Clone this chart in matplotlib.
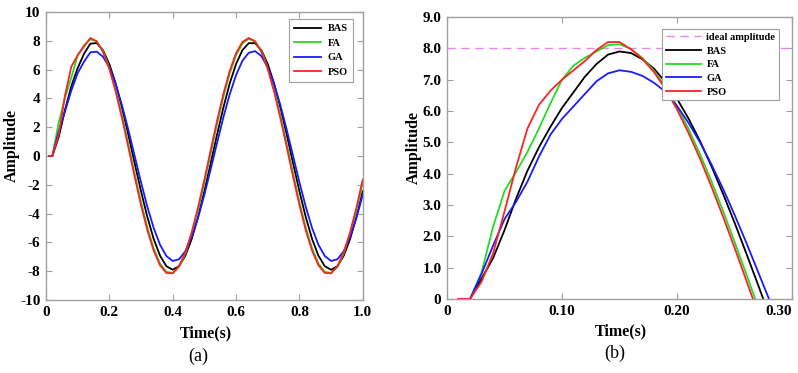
import numpy as np
import matplotlib
matplotlib.use("Agg")
import matplotlib.pyplot as plt

plt.rcParams['font.family'] = ['Liberation Serif', 'DejaVu Serif']
plt.rcParams['axes.unicode_minus'] = False

#%% data
# (a) full response, 0.02 s steps (first sample at 0.01 s)
t_a = np.concatenate(([0.01], np.arange(0.02, 1.0001, 0.02)))
bas_a = [0, 0, 1.3, 3.2, 4.85, 6.1, 7.1, 7.8, 7.85, 7.35, 6.39, 5.04, 3.36, 1.48, -0.50,
         -2.44, -4.23, -5.76, -6.92, -7.65, -7.90, -7.65, -6.92, -5.76, -4.23, -2.44,
         -0.50, 1.48, 3.36, 5.04, 6.39, 7.35, 7.84, 7.84, 7.35, 6.39, 5.04, 3.36, 1.48, -0.50,
         -2.44, -4.23, -5.76, -6.92, -7.65, -7.90, -7.65, -6.92, -5.76, -4.23, -2.44]
fa_a = [0, 0, 2.3, 4.05, 5.45, 7.0, 7.7, 8.1, 7.98, 7.28, 6.15, 4.62, 2.81, 0.82, -1.23,
        -3.19, -4.96, -6.41, -7.46, -8.04, -8.12, -7.69, -6.77, -5.43, -3.75, -1.83,
        0.20, 2.22, 4.10, 5.73, 6.99, 7.81, 8.14, 7.96, 7.28, 6.15, 4.62, 2.81, 0.82, -1.22,
        -3.19, -4.96, -6.41, -7.46, -8.04, -8.12, -7.69, -6.77, -5.43, -3.75, -1.83]
ga_a = [0, 0, 1.7, 3.1, 4.55, 5.75, 6.55, 7.2, 7.25, 6.9, 6.16, 5.00, 3.52, 1.82, 0,
        -1.82, -3.52, -5.00, -6.16, -6.94, -7.29, -7.17, -6.61, -5.62, -4.29, -2.69,
        -0.91, 0.91, 2.69, 4.29, 5.62, 6.61, 7.17, 7.29, 6.94, 6.16, 5.00, 3.52, 1.82, 0.0,
        -1.82, -3.52, -5.00, -6.16, -6.94, -7.29, -7.17, -6.61, -5.62, -4.29, -2.69]
pso_a = [0, 0, 1.45, 4.2, 6.2, 7.0, 7.6, 8.2, 7.97, 7.24, 6.05, 4.48, 2.63, 0.62, -1.44,
         -3.40, -5.15, -6.57, -7.59, -8.12, -8.15, -7.66, -6.69, -5.30, -3.58, -1.64,
         0.41, 2.44, 4.31, 5.91, 7.14, 7.92, 8.20, 7.97, 7.24, 6.05, 4.48, 2.63, 0.62, -1.44,
         -3.40, -5.15, -6.57, -7.59, -8.12, -8.15, -7.66, -6.69, -5.30, -3.58, -1.64]

# (b) first half period, 0.01 s steps
t_b = np.arange(0.01, 0.2901, 0.01)
bas_b = [0, 0, 0.65, 1.3, 2.2, 3.2, 4.1, 4.85, 5.5, 6.1, 6.6, 7.1, 7.5, 7.8, 7.9, 7.85,
         7.65, 7.35, 6.92, 6.39, 5.76, 5.04, 4.23, 3.36, 2.44, 1.48, 0.50, -0.50, -1.48]
fa_b = [0, 0, 0.85, 2.3, 3.45, 4.05, 4.7, 5.45, 6.25, 7.0, 7.45, 7.7, 7.9, 8.1, 8.13, 7.98,
        7.69, 7.28, 6.77, 6.15, 5.43, 4.62, 3.75, 2.81, 1.83, 0.82, -0.20, -1.23, -2.22]
ga_b = [0, 0, 0.8, 1.7, 2.55, 3.1, 3.75, 4.55, 5.25, 5.75, 6.15, 6.55, 6.95, 7.2, 7.3, 7.25,
        7.12, 6.9, 6.61, 6.16, 5.62, 5.00, 4.29, 3.52, 2.69, 1.82, 0.91, 0, -0.92]
pso_b = [0, 0, 0.55, 1.45, 2.8, 4.2, 5.45, 6.2, 6.65, 7.0, 7.3, 7.6, 7.95, 8.2, 8.2, 7.97,
         7.66, 7.24, 6.70, 6.05, 5.30, 4.48, 3.58, 2.63, 1.64, 0.62, -0.41, -1.44, -2.43]
ideal = 8.0

names = ['BAS', 'FA', 'GA', 'PSO']
cols = ['#000000', '#22dd22', '#1a1aff', '#ff2222']

xt_a = [0, 0.2, 0.4, 0.6, 0.8, 1.0]
xl_a = ['0', '0.2', '0.4', '0.6', '0.8', '1.0']
yt_a = [10, 8, 6, 4, 2, 0, -2, -4, -6, -8, -10]
xt_b = [0, 0.1, 0.2, 0.3]
xl_b = ['0', '0.10', '0.20', '0.30']
yt_b = list(range(0, 10))
yl_b = ['0'] + ['%.1f' % v for v in range(1, 10)]

#%% figure
fig = plt.figure(figsize=(7.98, 3.73), dpi=100)
ax1 = fig.add_axes([0.0576, 0.1957, 0.397, 0.772])
ax2 = fig.add_axes([0.5602, 0.1984, 0.4323, 0.756])

grey = '#a0a0a0'
labfont = dict(fontsize=11.5, fontweight='bold')


def style(ax):
    for s in ax.spines.values():
        s.set_color(grey)
        s.set_linewidth(1.0)
    ax.tick_params(direction='in', length=4, width=0.8, color=grey,
                   top=True, right=True, pad=4)
    for lab in ax.get_xticklabels() + ax.get_yticklabels():
        lab.set_fontsize(11)
        lab.set_fontweight('bold')


for ys, c, n in zip([bas_a, fa_a, ga_a, pso_a], cols, names):
    ax1.plot(t_a, ys, color=c, lw=1.3, label=n)
ax1.set_xlim(0, 1.0)
ax1.set_ylim(-10, 10)
ax1.set_xticks(xt_a)
ax1.set_xticklabels(xl_a)
ax1.set_yticks(yt_a)
ax1.set_yticklabels([str(v) for v in yt_a])
style(ax1)
ax1.set_xlabel('Time(s)', **labfont)
ax1.set_ylabel('Amplitude', **labfont)
ax1.xaxis.set_label_coords(0.505, -0.088)
ax1.yaxis.set_label_coords(-0.082, 0.538)
leg1 = ax1.legend(loc='upper right', bbox_to_anchor=(0.969, 0.976), fancybox=False,
                  framealpha=1, edgecolor=grey, handlelength=2.6, handletextpad=0.6,
                  labelspacing=0.5, borderpad=0.5, borderaxespad=0,
                  prop=dict(family='Liberation Serif', weight='bold', size=7.5))
leg1.get_frame().set_linewidth(0.8)

ax2.axhline(ideal, color='#ee82ee', lw=1.0, ls=(0, (6, 4)), label='ideal amplitude')
for ys, c, n in zip([bas_b, fa_b, ga_b, pso_b], cols, names):
    ax2.plot(t_b, ys, color=c, lw=1.3, label=n)
ax2.set_xlim(0, 0.3)
ax2.set_ylim(0, 9)
ax2.set_xticks(xt_b)
ax2.set_xticklabels(xl_b)
ax2.set_yticks(yt_b)
ax2.set_yticklabels(yl_b)
style(ax2)
ax2.get_xticklabels()[-1].set_horizontalalignment('right')
ax2.set_xlabel('Time(s)', **labfont)
ax2.set_ylabel('Amplitude', **labfont)
ax2.xaxis.set_label_coords(0.503, -0.085)
ax2.yaxis.set_label_coords(-0.072, 0.539)
leg2 = ax2.legend(loc='upper right', bbox_to_anchor=(0.962, 0.957), fancybox=False,
                  framealpha=1, edgecolor=grey, handlelength=3.4, handletextpad=0.5,
                  labelspacing=0.42, borderpad=0.35, borderaxespad=0,
                  prop=dict(family='Liberation Serif', weight='bold', size=7.5))
leg2.get_frame().set_linewidth(0.8)

fig.text(198 / 798, 1 - 356 / 373, '(a)', ha='center', va='center', fontsize=13)
fig.text(615 / 798, 1 - 353 / 373, '(b)', ha='center', va='center', fontsize=13)

fig.savefig('out.png', dpi=100)
